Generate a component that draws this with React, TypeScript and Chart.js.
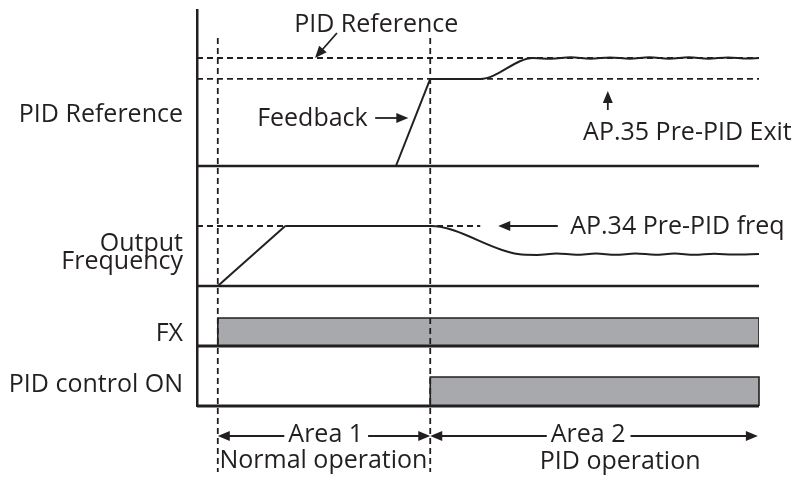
import React, { useEffect, useRef } from "react";
import { Chart, registerables } from "chart.js";

Chart.register(...registerables);

// ---------- data (time in arbitrary units 0..100) ----------
const T_START = 0;
const T_FX_ON = 3.7;
const T_RAMP_END = 15.7;
const T_FB_START = 35.4;
const T_PID_ON = 41.5;
const T_FREQ_MARK_END = 50.4;
const T_END = 100;

const PID_REFERENCE_PCT = 100;
const PRE_PID_EXIT_PCT = 80.6;
const PRE_PID_FREQ_PCT = 100;

const feedbackRampT = [T_FB_START, T_PID_ON];
const feedbackRampPct = [0, PRE_PID_EXIT_PCT];
const feedbackT = [41.5, 50.4, 59.8, 63, 66.5, 70, 73.5, 77, 80.5, 84, 87.5, 91, 94.5, 98, 100];
const feedbackPct = [80.6, 80.6, 100, 99.2, 100.6, 99.3, 100.5, 99.4, 100.7, 99.3, 100.6, 99.4, 100.5, 99.5, 100];

const outputRampT = [T_FX_ON, T_RAMP_END];
const outputRampPct = [0, PRE_PID_FREQ_PCT];
const outputT = [15.7, 41.5, 57.1, 60.5, 64, 67.5, 71, 74.5, 78, 81.5, 85, 88.5, 92, 95.5, 100];
const outputPct = [100, 100, 53.3, 51.8, 54.2, 52.1, 54, 52, 54.1, 52.2, 54, 52.1, 53.9, 52.3, 53.3];

const fxT = [T_START, T_FX_ON, T_FX_ON, T_END, T_END];
const fxState = [0, 0, 1, 1, 0];
const pidOnT = [T_START, T_PID_ON, T_PID_ON, T_END, T_END];
const pidOnState = [0, 0, 1, 1, 0];

const rowLabels: (string | string[])[] = ["PID Reference", ["Output", "Frequency"], "FX", "PID control ON"];

// ---------- layout (y scale units, 0 = bottom of chart area) ----------
const ROW_PID = { base: 240, span: 108, label: 291.5 };
const ROW_OUT = { base: 120, span: 60, label: 153 };
const ROW_FX = { base: 60, span: 28, label: 72 };
const ROW_ON = { base: 0, span: 29, label: 21 };
const rowLabelValues = [ROW_PID.label, ROW_OUT.label, ROW_FX.label, ROW_ON.label];

const INK = "#231f20";
const GRAY = "#a7a9ac";
const FONT_FAMILY = "'Open Sans'";
const FONT_SIZE = 25;
const FONT = `${FONT_SIZE}px ${FONT_FAMILY}`;
const DASH = [6, 4];
const DASH_W = 1.8;

const pts = (ts: number[], vs: number[], row: { base: number; span: number }, scale: number) =>
  ts.map((t, i) => ({ x: t, y: row.base + (row.span * vs[i]) / scale }));

function arrowHead(ctx: CanvasRenderingContext2D, x1: number, y1: number, x2: number, y2: number) {
  const a = Math.atan2(y2 - y1, x2 - x1);
  const L = 12;
  const W = 5;
  ctx.beginPath();
  ctx.moveTo(x2, y2);
  ctx.lineTo(x2 - L * Math.cos(a) + W * Math.sin(a), y2 - L * Math.sin(a) - W * Math.cos(a));
  ctx.lineTo(x2 - L * Math.cos(a) - W * Math.sin(a), y2 - L * Math.sin(a) + W * Math.cos(a));
  ctx.closePath();
  ctx.fill();
}

function arrow(ctx: CanvasRenderingContext2D, x1: number, y1: number, x2: number, y2: number) {
  const a = Math.atan2(y2 - y1, x2 - x1);
  ctx.beginPath();
  ctx.moveTo(x1, y1);
  ctx.lineTo(x2 - 8 * Math.cos(a), y2 - 8 * Math.sin(a));
  ctx.stroke();
  arrowHead(ctx, x1, y1, x2, y2);
}

const annotations = {
  id: "annotations",
  afterDatasetsDraw(chart: any) {
    const { ctx, scales } = chart;
    const X = (v: number) => scales.x.getPixelForValue(v);
    const Y = (v: number) => scales.y.getPixelForValue(v);
    ctx.save();
    ctx.fillStyle = INK;
    ctx.strokeStyle = INK;
    ctx.lineWidth = 1.8;
    ctx.font = FONT;
    ctx.textBaseline = "alphabetic";

    // PID Reference (top)
    ctx.textAlign = "center";
    ctx.fillText("PID Reference", X(31.9), Y(374));
    arrow(ctx, X(24.9), Y(373), X(21.0), Y(ROW_PID.base + ROW_PID.span));

    // Feedback
    ctx.textAlign = "left";
    ctx.fillText("Feedback", X(10.7), Y(280));
    arrow(ctx, X(31.7), Y(288), X(37.6), Y(288));

    // AP.35
    arrow(ctx, X(73.1), Y(296), X(73.1), Y(315));
    ctx.fillText("AP.35 Pre-PID Exit", X(68.7), Y(266));

    // AP.34
    arrow(ctx, X(64.2), Y(180), X(53.6), Y(180));
    ctx.fillText("AP.34 Pre-PID freq", X(66.4), Y(172));

    // Areas
    const area = (label: string, c: number, a: number, b: number) => {
      ctx.textAlign = "center";
      ctx.fillText(label, X(c), Y(-36));
      const w = ctx.measureText(label).width;
      const yy = Y(-30);
      arrow(ctx, X(c) - w / 2 - 4, yy, X(a), yy);
      arrow(ctx, X(c) + w / 2 + 5, yy, X(b), yy);
    };
    area("Area 1", 22.9, T_FX_ON, T_PID_ON);
    area("Area 2", 69.6, T_PID_ON, 99.8);
    ctx.textAlign = "center";
    ctx.fillText("Normal operation", X(22.5), Y(-62));
    ctx.fillText("PID operation", X(75.3), Y(-63));
    ctx.restore();
  },
};

export default function App() {
  const ref = useRef<HTMLCanvasElement | null>(null);
  useEffect(() => {
    if (!ref.current) return;
    const line = (data: any[], extra: any = {}) => ({
      type: "line",
      data,
      borderColor: INK,
      borderWidth: 2,
      pointRadius: 0,
      fill: false,
      tension: 0,
      ...extra,
    });
    const dashed = { borderDash: DASH, borderWidth: DASH_W };
    const datasets: any[] = [
      // vertical dashed markers
      line([{ x: T_FX_ON, y: 368 }, { x: T_FX_ON, y: -66 }], { ...dashed, clip: false }),
      line([{ x: T_PID_ON, y: 368 }, { x: T_PID_ON, y: -66 }], { ...dashed, clip: false }),
      // signals
      line(pts(feedbackRampT, feedbackRampPct, ROW_PID, 100)),
      line(pts(feedbackT, feedbackPct, ROW_PID, 100), { cubicInterpolationMode: "monotone" }),
      line(pts(outputRampT, outputRampPct, ROW_OUT, 100)),
      line(pts(outputT, outputPct, ROW_OUT, 100), { cubicInterpolationMode: "monotone" }),
      // horizontal dashed levels
      line(pts([T_START, T_END], [PID_REFERENCE_PCT, PID_REFERENCE_PCT], ROW_PID, 100), dashed),
      line(pts([T_START, T_END], [PRE_PID_EXIT_PCT, PRE_PID_EXIT_PCT], ROW_PID, 100), dashed),
      line(pts([T_START, T_FREQ_MARK_END], [PRE_PID_FREQ_PCT, PRE_PID_FREQ_PCT], ROW_OUT, 100), dashed),
      // baselines
      line(pts([T_START, T_END], [0, 0], ROW_PID, 1), { borderWidth: 2.5 }),
      line(pts([T_START, T_END], [0, 0], ROW_OUT, 1), { borderWidth: 2.5 }),
      line(pts([T_START, T_END], [0, 0], ROW_FX, 1), { borderWidth: 3, clip: false }),
      line(pts([T_START, T_END], [0, 0], ROW_ON, 1), { borderWidth: 3, clip: false }),
      // digital bars
      line(pts(fxT, fxState, ROW_FX, 1), { borderWidth: 1.6, fill: { value: ROW_FX.base }, backgroundColor: GRAY }),
      line(pts(pidOnT, pidOnState, ROW_ON, 1), { borderWidth: 1.6, fill: { value: ROW_ON.base }, backgroundColor: GRAY, clip: false }),
    ];

    const chart = new Chart(ref.current, {
      type: "line",
      data: { datasets },
      options: {
        animation: false,
        responsive: true,
        maintainAspectRatio: false,
        layout: { padding: { top: 10, bottom: 71, right: 39, left: 0 } },
        plugins: { legend: { display: false }, tooltip: { enabled: false } },
        events: [],
        scales: {
          x: { type: "linear", min: T_START, max: T_END, display: false },
          y: {
            type: "linear",
            min: 0,
            max: 396,
            position: "left",
            grid: { display: false, drawTicks: false },
            border: { display: true, color: INK, width: 2.5 },
            afterFit: (s: any) => {
              s.width = 197;
              s.paddingTop = 0;
              s.paddingBottom = 0;
            },
            afterBuildTicks: (s: any) => {
              s.ticks = rowLabelValues.map((v) => ({ value: v }));
            },
            ticks: {
              autoSkip: false,
              padding: 14,
              color: INK,
              font: { family: FONT_FAMILY, size: FONT_SIZE, lineHeight: 0.72 },
              callback: (v: any) => {
                const i = rowLabelValues.indexOf(Number(v));
                return i >= 0 ? rowLabels[i] : "";
              },
            },
          },
        },
      } as any,
      plugins: [annotations],
    });
    return () => chart.destroy();
  }, []);
  return (
    <div style={{ position: "absolute", left: 0, top: 0, width: 798, height: 477, background: "#fff" }}>
      <canvas ref={ref} />
    </div>
  );
}
